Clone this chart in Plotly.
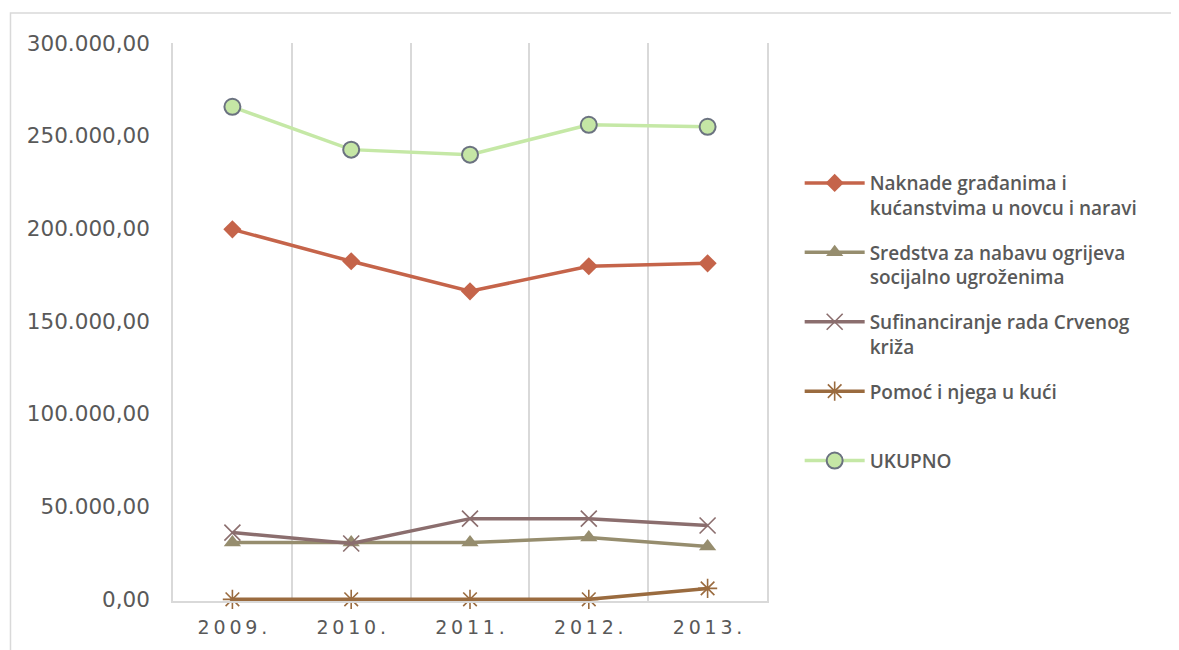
import plotly.graph_objects as go

godine = ["2009.", "2010.", "2011.", "2012.", "2013."]

naknade = [199500, 182300, 166100, 179600, 181200]
sredstva = [30600, 30600, 30600, 33300, 28500]
sufinanciranje = [36000, 30100, 43500, 43500, 39800]
pomoc = [0, 0, 0, 0, 5900]
ukupno = [265600, 242500, 239800, 255900, 254800]

nazivi = [
    "Naknade građanima i<br>kućanstvima u novcu i naravi",
    "Sredstva za nabavu ogrijeva<br>socijalno ugroženima",
    "Sufinanciranje rada Crvenog<br>križa",
    "Pomoć i njega u kući<br>\u00a0",
    "UKUPNO",
]

siva = "#595959"
font = "DejaVu Sans, Liberation Sans, sans-serif"
fig = go.Figure()

# serije: (vrijednosti, boja linije, marker)
serije = [
    (naknade, "#C5644A", dict(symbol="diamond", size=14, color="#C5644A")),
    (sredstva, "#968D6E", dict(symbol="triangle-up", size=15, color="#968D6E")),
    (sufinanciranje, "#8B6E6E", dict(symbol="x-thin-open", size=16,
                                      line=dict(color="#8B6E6E", width=1.6))),
    (pomoc, "#9A6B3F", dict(symbol="asterisk-open", size=16,
                             line=dict(color="#9A6B3F", width=1.6))),
    (ukupno, "#C5E8A6", dict(symbol="circle", size=16, color="#C5E6A5",
                              line=dict(color="#6B7280", width=2))),
]

for i, (vals, boja, mk) in enumerate(serije):
    fig.add_trace(go.Scatter(
        x=godine, y=vals, name=nazivi[i], mode="lines+markers",
        line=dict(color=boja, width=3.5), marker=mk,
        legendgroup=str(i), cliponaxis=False,
    ))

fig.update_layout(
    width=1179, height=650,
    margin=dict(l=165, r=420, t=35, b=57),
    paper_bgcolor="white", plot_bgcolor="white",
    separators=",.",
    font=dict(family=font, color=siva),
    showlegend=True,
    legend=dict(
        x=1.055, xanchor="left", y=0.783, yanchor="top",
        font=dict(family="Open Sans, DejaVu Sans, sans-serif", size=19,
                  weight=600, color=siva),
        valign="top", tracegroupgap=17, itemwidth=60,
        bgcolor="rgba(0,0,0,0)",
    ),
    shapes=[dict(
        type="rect", xref="paper", yref="paper",
        x0=-0.2736, x1=1.76, y0=-0.12, y1=1.0538,
        line=dict(color="#D9D9D9", width=1.5), layer="below",
    )],
)

fig.update_xaxes(
    type="category", tickson="boundaries", showgrid=True,
    gridcolor="#D9D9D9", gridwidth=1.5,
    showline=True, linecolor="#D9D9D9", linewidth=1.5,
    tickmode="array", tickvals=godine,
    ticktext=["\u2009".join(g) for g in godine],
    tickfont=dict(size=19, color=siva), ticks="", ticklabelstandoff=8,
    range=[-0.5, 4.5],
)
fig.update_yaxes(
    range=[-900, 300000], tick0=0, dtick=50000, tickformat=",.2f",
    showgrid=False, zeroline=False,
    showline=True, mirror=True, linecolor="#D9D9D9", linewidth=1.5,
    tickfont=dict(size=21.5, color=siva), ticklabelstandoff=17,
)

fig.write_html("out.html")
